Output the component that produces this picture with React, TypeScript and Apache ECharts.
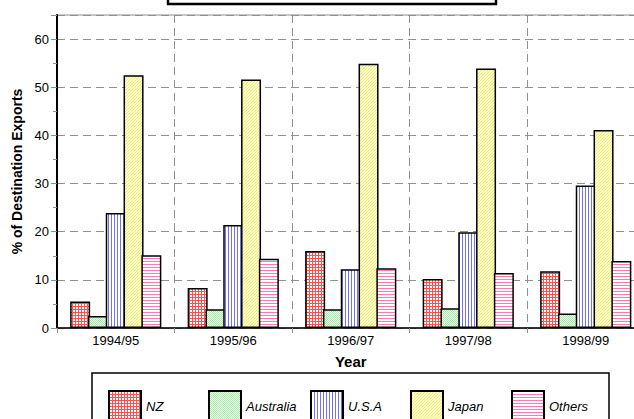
import React, { useEffect, useRef } from "react";
import * as echarts from "echarts";

const categories = ["1994/95", "1995/96", "1996/97", "1997/98", "1998/99"];
const seriesNames = ["NZ", "Australia", "U.S.A", "Japan", "Others"];
const nzValues = [5.5, 8.3, 16.0, 10.2, 11.8];
const australiaValues = [2.5, 3.9, 3.9, 4.1, 3.0];
const usaValues = [23.9, 21.4, 12.2, 19.9, 29.6];
const japanValues = [52.5, 51.6, 54.9, 53.9, 41.1];
const othersValues = [15.1, 14.4, 12.4, 11.4, 13.9];
const yTicks = [0, 10, 20, 30, 40, 50, 60];

function makePattern(w: number, h: number, draw: (ctx: CanvasRenderingContext2D) => void) {
  const c = document.createElement("canvas");
  c.width = w;
  c.height = h;
  const ctx = c.getContext("2d")!;
  draw(ctx);
  return { image: c.toDataURL(), imageWidth: w, imageHeight: h, repeat: "repeat" } as any;
}

export default function App() {
  const ref = useRef<HTMLDivElement>(null);
  useEffect(() => {
    if (!ref.current) return;
    const chart = echarts.init(ref.current, null, { renderer: "svg" });

    const nzPat = makePattern(3, 3, (ctx) => {
      ctx.fillStyle = "#ffffff";
      ctx.fillRect(0, 0, 3, 3);
      ctx.fillStyle = "#ff5050";
      ctx.fillRect(0, 0, 3, 1);
      ctx.fillRect(0, 0, 1, 3);
    });
    const ausPat = makePattern(2, 2, (ctx) => {
      ctx.fillStyle = "#f0fff0";
      ctx.fillRect(0, 0, 2, 2);
      ctx.fillStyle = "#a8e8a8";
      ctx.fillRect(0, 0, 1, 1);
      ctx.fillRect(1, 1, 1, 1);
    });
    const usaPat = makePattern(3, 3, (ctx) => {
      ctx.fillStyle = "#ffffff";
      ctx.fillRect(0, 0, 3, 3);
      ctx.fillStyle = "#7070ff";
      ctx.fillRect(0, 0, 1, 3);
    });
    const japanPat = makePattern(3, 3, (ctx) => {
      ctx.fillStyle = "#ffffc0";
      ctx.fillRect(0, 0, 3, 3);
      ctx.fillStyle = "#ece890";
      ctx.fillRect(0, 2, 1, 1);
      ctx.fillRect(1, 1, 1, 1);
      ctx.fillRect(2, 0, 1, 1);
    });
    const othersPat = makePattern(3, 3, (ctx) => {
      ctx.fillStyle = "#ffffff";
      ctx.fillRect(0, 0, 3, 3);
      ctx.fillStyle = "#ff78b8";
      ctx.fillRect(0, 0, 3, 1);
    });

    const patterns = [nzPat, ausPat, usaPat, japanPat, othersPat];
    const values = [nzValues, australiaValues, usaValues, japanValues, othersValues];
    const legendLefts = [103, 203, 305, 405, 506];
    const font = "Arial";

    chart.setOption({
      animation: false,
      grid: {
        left: 57,
        top: 15,
        right: 15.5,
        bottom: 91,
        show: true,
        borderColor: "#909090",
        borderWidth: 1,
        backgroundColor: "transparent",
      },
      xAxis: {
        type: "category",
        data: categories,
        name: "Year",
        nameLocation: "middle",
        nameGap: 26,
        nameTextStyle: { fontFamily: font, fontWeight: 900, fontSize: 15, color: "#000" },
        axisLine: { show: true, lineStyle: { color: "#000", width: 1.5 } },
        axisTick: { show: true, alignWithLabel: false, length: 5, lineStyle: { color: "#909090" } },
        axisLabel: { fontFamily: font, fontSize: 13, color: "#000", margin: 6 },
        splitLine: { show: true, interval: 0, lineStyle: { color: "#909090", type: [8, 5], width: 1 } },
      },
      yAxis: {
        type: "value",
        min: 0,
        max: 65,
        interval: 10,
        name: "% of Destination Exports",
        nameLocation: "middle",
        nameGap: 32,
        nameTextStyle: { fontFamily: font, fontWeight: 900, fontSize: 14, color: "#000" },
        axisLine: { show: true, lineStyle: { color: "#000", width: 2 } },
        axisTick: { show: true, length: 6, lineStyle: { color: "#909090" } },
        minorTick: { show: true, splitNumber: 2, length: 4, lineStyle: { color: "#909090" } },
        axisLabel: {
          fontFamily: font,
          fontSize: 13,
          color: "#000",
          margin: 8,
          formatter: (v: number) => (yTicks.indexOf(v) >= 0 ? String(v) : ""),
        },
        splitLine: { show: true, lineStyle: { color: "#909090", type: [8, 5], width: 1 } },
      },
      legend: legendLefts.map((l, i) => ({
        data: [seriesNames[i]],
        left: l,
        top: 385,
        icon: "rect",
        itemWidth: 32,
        itemHeight: 31,
        selectedMode: false,
        textStyle: { fontFamily: font, fontStyle: "italic", fontSize: 13, color: "#000" },
      })),
      graphic: [
        {
          type: "rect",
          shape: { x: 92, y: 373, width: 517, height: 70 },
          style: { fill: "none", stroke: "#000", lineWidth: 1.5 },
          z: 10,
        },
        {
          type: "rect",
          shape: { x: 168, y: -10, width: 328, height: 14 },
          style: { fill: "#fff", stroke: "#000", lineWidth: 2.5 },
          z: 10,
        },
      ],
      series: seriesNames.map((n, i) => ({
        name: n,
        type: "bar",
        data: values[i],
        barWidth: 20,
        barGap: "-11%",
        itemStyle: { color: patterns[i], borderColor: "#000", borderWidth: 1.5 },
      })),
    });
    return () => chart.dispose();
  }, []);
  return (
    <div style={{ position: "absolute", left: 0, top: 0, width: 634, height: 419, overflow: "hidden" }}>
      <div ref={ref} style={{ width: 660, height: 419 }} />
    </div>
  );
}
